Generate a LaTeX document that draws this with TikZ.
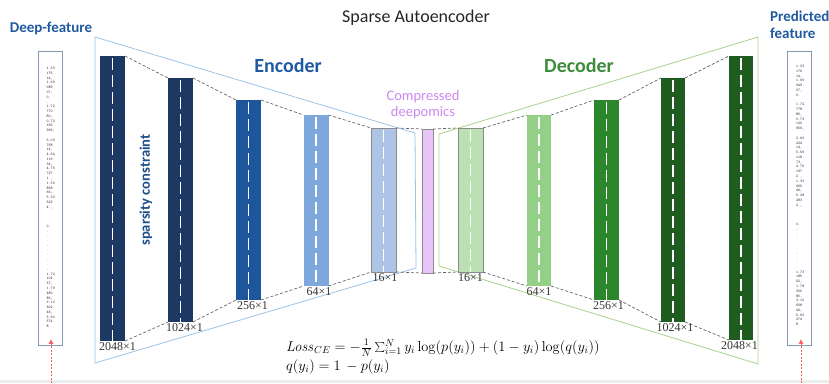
\documentclass[tikz,border=0pt]{standalone}
\usepackage[no-math]{fontspec}
\setmainfont{Carlito}
\newfontfamily\labelfont{Liberation Serif}
\usetikzlibrary{arrows.meta}
\definecolor{cE1}{RGB}{30,56,100}
\definecolor{cE3}{RGB}{30,86,156}
\definecolor{cE4}{RGB}{126,168,220}
\definecolor{cE5}{RGB}{173,196,230}
\definecolor{cComp}{RGB}{232,196,248}
\definecolor{cD1}{RGB}{188,223,180}
\definecolor{cD2}{RGB}{149,208,137}
\definecolor{cD3}{RGB}{44,134,44}
\definecolor{cD4}{RGB}{31,92,31}
\definecolor{encline}{RGB}{157,195,230}
\definecolor{decline}{RGB}{169,209,142}
\definecolor{headblue}{RGB}{31,90,160}
\definecolor{sparseblue}{RGB}{31,78,140}
\definecolor{decgreen}{RGB}{60,140,60}
\definecolor{violetT}{RGB}{205,135,242}
\definecolor{boxline}{RGB}{132,151,176}
\definecolor{redA}{RGB}{255,95,95}
\begin{document}
\begin{tikzpicture}[x=1pt,y=-1pt,
  bar/.style={rectangle, inner sep=0pt, outer sep=0pt, minimum width=25pt,
    path picture={\draw[white, line width=1.4pt, dash pattern=on 12pt off 5pt]
      ([yshift=-2pt]path picture bounding box.north) -- (path picture bounding box.south);}},
  lightbar/.style={bar, draw=black!45, line width=0.5pt},
  dimlabel/.style={font=\labelfont\fontsize{12}{13}\selectfont, text=black!80, anchor=north, inner sep=1pt},
  conn/.style={draw=black!60, dash pattern=on 3pt off 2pt, line width=0.7pt},
  fbox/.style={draw=boxline, line width=0.8pt, fill=white, minimum width=24pt, minimum height=294pt, inner sep=0pt},
  numtext/.style={font=\ttfamily\fontsize{3.8}{4.78}\selectfont, text=black!85, align=left, inner sep=0pt, anchor=north west},
  redarrow/.style={draw=redA, dash pattern=on 2pt off 1.5pt, line width=0.8pt, -{Triangle[length=4.5pt,width=4.5pt]}},
  head/.style={font=\bfseries\fontsize{15}{17}\selectfont, text=headblue, inner sep=0pt}
]
\useasboundingbox (0,0) rectangle (829,383);
\fill[black!7] (0,380) rectangle (829,383);

% trapezoids
\draw[encline, line width=0.8pt] (95,37) -- (415,133) -- (416,268) -- (95,363) -- cycle;
\draw[decline, line width=0.8pt] (439,134) -- (758,37) -- (758,364) -- (439,266) -- cycle;

% title and headers
\node[font=\fontsize{18}{20}\selectfont, text=black!85] (title) at (416,18) {Sparse Autoencoder};
\node[font=\bfseries\fontsize{20}{22}\selectfont, text=headblue] (enc) at (288,66) {Encoder};
\node[font=\bfseries\fontsize{20}{22}\selectfont, text=decgreen] (dec) at (579,66) {Decoder};
\node[font=\fontsize{14.5}{16}\selectfont, text=violetT, align=center] (cmp) at (423,105) {Compressed\\deepomics};
\node[head, anchor=base] (deep) at (51,32) {Deep-feature};
\node[head, anchor=north west, align=left] (pred) at (770,11) {Predicted\\feature};
\node[font=\bfseries\fontsize{14.6}{16}\selectfont, text=sparseblue, rotate=90] (sc) at (146,190) {sparsity constraint};

% encoder bars
\node[bar, fill=cE1, minimum height=285pt] (e1) at (112.5,198.5) {};
\node[bar, fill=cE1, minimum height=244pt] (e2) at (180.5,200) {};
\node[bar, fill=cE3, minimum height=200pt] (e3) at (248.5,200) {};
\node[bar, fill=cE4, minimum height=171pt] (e4) at (316,200.5) {};
\node[lightbar, fill=cE5, minimum height=144pt] (e5) at (383.5,200) {};
% compressed
\node[rectangle, inner sep=0pt, outer sep=0pt, draw=black!45, line width=0.5pt, fill=cComp, minimum width=11pt, minimum height=144pt] (cp) at (427.5,201) {};
% decoder bars
\node[lightbar, fill=cD1, minimum height=144pt] (d1) at (470.5,200) {};
\node[bar, fill=cD2, minimum height=171pt, minimum width=24pt] (d2) at (539,200.5) {};
\node[bar, fill=cD3, minimum height=200pt] (d3) at (606.5,200) {};
\node[bar, fill=cD4, minimum height=244pt, minimum width=24pt] (d4) at (673,200) {};
\node[bar, fill=cD4, minimum height=284pt, minimum width=24pt] (d5) at (741,198) {};

% dashed connectors
\foreach \a/\b in {e1/e2,e2/e3,e3/e4,e4/e5,e5/cp,cp/d1,d1/d2,d2/d3,d3/d4,d4/d5}{
  \draw[conn] (\a.north east) -- (\b.north west);
  \draw[conn] (\a.south east) -- (\b.south west);
}

% size labels
\node[dimlabel] (le1) at ([xshift=5pt]e1.south) {2048×1};
\node[dimlabel] (le2) at ([xshift=4pt]e2.south) {1024×1};
\node[dimlabel] (le3) at ([xshift=4pt]e3.south) {256×1};
\node[dimlabel] (le4) at ([xshift=3pt]e4.south) {64×1};
\node[dimlabel] (le5) at ([xshift=1.5pt]e5.south) {16×1};
\node[dimlabel] (ld1) at (d1.south) {16×1};
\node[dimlabel] (ld2) at (d2.south) {64×1};
\node[dimlabel] (ld3) at ([xshift=2pt]d3.south) {256×1};
\node[dimlabel] (ld4) at ([xshift=2pt]d4.south) {1024×1};
\node[dimlabel] (ld5) at ([xshift=-1.5pt]d5.south) {2048×1};

% formula
\node[anchor=north west, inner sep=0pt, align=left, font=\fontsize{14}{12.5}\selectfont] (f1) at (286,339)
  {$\mathit{Loss}_{CE}=-\frac{1}{N}\sum_{i=1}^{N} y_i\log\bigl(p(y_i)\bigr)+(1-y_i)\log\bigl(q(y_i)\bigr)$\\[2pt]
   $q(y_i)=1\,-p(y_i)$};

% feature boxes
\node[fbox] (lbox) at (50,198) {};
\node[fbox] (rbox) at (799.5,198) {};
\node[numtext] (lnum) at (46.5,67) {1.33\\175\\14,\\1.69\\089\\07,\\0.\\.\\1.72\\770\\80,\\0.72\\155\\999,\\ \\3.03\\758\\14,\\4.64\\119\\34,\\4.75\\727\\1 ,\\1.33\\858\\66,\\5.33\\529\\4 ,\\ \\ \\ \\0.\\.\\.\\.\\.\\.\\.\\.\\.\\.\\1.72\\104\\57,\\1.79\\480\\85,\\9.10\\602\\46,\\5.60\\574\\8};
\node[numtext] (rnum) at (796,65) {1.33\\176\\14,\\1.69\\649\\07,\\0.\\.\\1.72\\778\\85,\\0.73\\120\\956,\\ \\3.60\\224\\14,\\5.59\\118\\73,\\4.75\\197\\2 ,\\1.33\\665\\46,\\5.28\\283\\4 ,\\ \\ \\ \\0.\\.\\.\\.\\.\\.\\.\\.\\.\\.\\1.73\\185\\52,\\1.78\\355\\80,\\3.10\\658\\46,\\5.60\\274\\8};

% red input arrows
\coordinate (lin) at (51,383);
\coordinate (rin) at (801,383);
\draw[redarrow] (lin) -- ([xshift=1pt,yshift=6pt]lbox.south);
\draw[redarrow] (rin) -- ([xshift=1.5pt,yshift=6pt]rbox.south);
\end{tikzpicture}
\end{document}
